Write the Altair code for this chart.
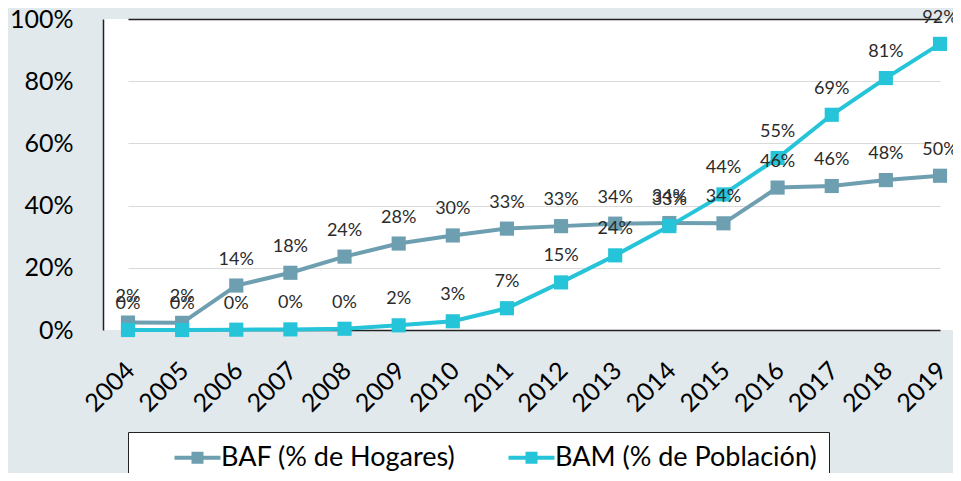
import altair as alt
import pandas as pd

years = ["2004", "2005", "2006", "2007", "2008", "2009", "2010", "2011",
         "2012", "2013", "2014", "2015", "2016", "2017", "2018", "2019"]
baf = [0.024, 0.023, 0.143, 0.184, 0.236, 0.278, 0.304, 0.326,
       0.334, 0.342, 0.344, 0.343, 0.458, 0.463, 0.482, 0.496]
bam = [0.000, 0.000, 0.001, 0.002, 0.004, 0.015, 0.028, 0.070,
       0.153, 0.240, 0.334, 0.436, 0.553, 0.692, 0.810, 0.920]
series_names = ["BAF (% de Hogares)", "BAM (% de Población)"]
colors = ["#6d9fb0", "#25c4d8"]
y_ticks = [0, 0.2, 0.4, 0.6, 0.8, 1.0]

rows = []
for name, vals in zip(series_names, [baf, bam]):
    for yr, v in zip(years, vals):
        rows.append({"year": yr, "value": v, "series": name})
df = pd.DataFrame(rows)

FONT = "Lato"
BORDER = "#222222"

x_enc = alt.X(
    "year:O", sort=years,
    scale=alt.Scale(type="point", range=[25, 837], padding=0),
    axis=alt.Axis(title=None, labelAngle=-45, labelAlign="right", labelBaseline="middle",
                  labelFont=FONT, labelFontSize=25, labelColor="black",
                  labelPadding=36, labelOffset=2, ticks=False, domain=True,
                  domainColor=BORDER, domainWidth=1.5, grid=False),
)
y_enc = alt.Y(
    "value:Q", scale=alt.Scale(domain=[0, 1]),
    axis=alt.Axis(title=None, format=".0%", values=y_ticks, labelFont=FONT,
                  labelFontSize=25, labelColor="black", labelPadding=30,
                  ticks=False, domain=True, domainColor=BORDER, domainWidth=1.5,
                  grid=True,
                  gridColor=alt.condition("datum.value >= 1", alt.value(BORDER), alt.value("#d9d9d9")),
                  gridWidth=alt.condition("datum.value >= 1", alt.value(1.5), alt.value(1))),
)

scale = alt.Scale(domain=series_names, range=colors)
legend = alt.Legend(
    title=None, orient="none", legendX=25, legendY=413, direction="horizontal",
    symbolType="M-2.3,0H2.3M-0.4,-0.4H0.4V0.4H-0.4ZM-0.1,-0.1H0.1V0.1H-0.1Z",
    symbolSize=400, symbolStrokeWidth=4, symbolOffset=44,
    labelFont=FONT, labelFontSize=27, labelColor="black", labelOffset=10,
    labelLimit=500, columnPadding=18, padding=12, fillColor="white", strokeColor=BORDER,
)

base = alt.Chart(df).encode(x=x_enc, y=y_enc)

lines = base.mark_line(strokeWidth=4).encode(
    color=alt.Color("series:N", scale=scale, legend=legend)
)
points = base.mark_point(shape="square", filled=True, size=200, opacity=1).encode(
    color=alt.Color("series:N", scale=scale, legend=None),
)
labels = base.mark_text(dy=-26, font=FONT, fontSize=18, color="#2b2b2b").encode(
    text=alt.Text("value:Q", format=".0%")
)

chart = alt.layer(lines, points, labels).properties(
    width=850, height=311,
    autosize=alt.AutoSizeParams(type="none"),
    padding={"left": 95, "top": 11, "right": 0, "bottom": 143},
    background="#e1e9ec",
    title=alt.TitleParams("(2004-2019)", font=FONT, fontSize=30, fontWeight="bold",
                          color="black", baseline="alphabetic", frame="group",
                          offset=-20, dx=30, anchor="middle"),
).configure_view(fill="white", strokeWidth=0)

chart.save("out.html", embed_options={"renderer": "svg", "actions": False})
